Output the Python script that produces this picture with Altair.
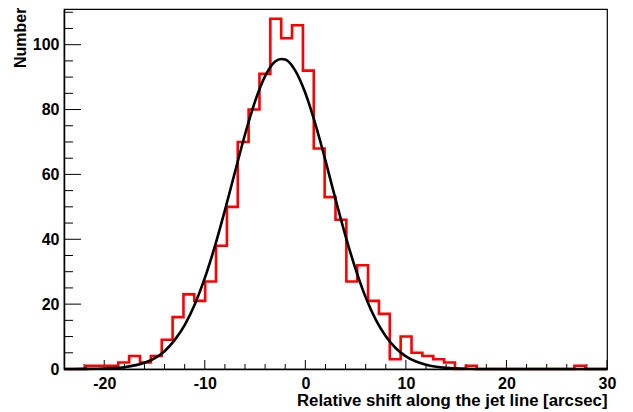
import altair as alt
import numpy as np
import pandas as pd

# ---------------- data ----------------
X_MIN, X_MAX = -24.0, 30.0          # histogram / axis range (50 bins)
COUNTS = [0, 0, 1, 1, 1, 2, 4, 2, 4, 9,
          16, 23, 21, 27, 38, 50, 70, 80, 91, 108,
          102, 106, 92, 68, 53, 46, 27, 32, 21, 17,
          3, 10, 5, 4, 3, 2, 0, 1, 0, 0,
          0, 0, 0, 0, 0, 0, 0, 1, 0, 0]

FIT_X = [-24, -22, -20, -18, -16, -15, -14, -13, -12, -11, -10, -9, -8, -7, -6,
         -5, -4, -3, -2.4, -2, -1, 0, 1, 2, 3, 4, 5, 6, 7, 8, 9, 10, 11, 12,
         14, 16, 18, 20, 25, 30]
FIT_Y = [0.0, 0.03, 0.14, 0.56, 1.9, 3.3, 5.5, 8.9, 13.5, 19.9, 28.0, 37.8, 48.9, 60.7, 72.3,
         82.5, 90.3, 94.8, 95.6, 95.4, 92.0, 85.1, 75.5, 64.3, 52.4, 41.0, 30.8, 22.1, 15.2, 10.1, 6.4, 3.9, 2.3, 1.3,
         0.35, 0.08, 0.01, 0.0, 0.0, 0.0]

X_MAJOR = [-20, -10, 0, 10, 20, 30]
X_MINOR = [-22, -18, -16, -14, -12, -8, -6, -4, -2, 2, 4, 6, 8,
           12, 14, 16, 18, 22, 24, 26, 28]
Y_MAJOR = [0, 20, 40, 60, 80, 100]
Y_MINOR = [5, 10, 15, 25, 30, 35, 45, 50, 55, 65, 70, 75, 85, 90, 95, 105, 110]

X_TITLE = "Relative shift along the jet line [arcsec]"
Y_TITLE = "Number"

# ---------------- tables ----------------
edges = np.linspace(X_MIN, X_MAX, len(COUNTS) + 1)
hist_df = pd.DataFrame({"x": list(edges[:-1]) + [edges[-1]],
                        "y": COUNTS + [COUNTS[-1]]})
fit_df = pd.DataFrame({"x": FIT_X, "y": FIT_Y})

W, H = 543, 360
Y_TOP = 111.0
FONT = "Liberation Sans"

xscale = alt.Scale(domain=[X_MIN, X_MAX], nice=False, zero=False)
yscale = alt.Scale(domain=[0, Y_TOP], nice=False, zero=True)

xaxis = alt.Axis(values=X_MAJOR, title=X_TITLE, ticks=False, tickSize=0, grid=False,
                 domainColor="black", domainWidth=1.5,
                 labelFont=FONT, labelFontSize=16, labelFontWeight="bold", labelColor="black",
                 labelPadding=6, labelExpr="'' + datum.value", labelFlush=False, labelOverlap=False,
                 titleFont=FONT, titleFontSize=16.8, titleFontWeight="bold", titleColor="black",
                 titleAnchor="end", titleAlign="right", titleBaseline="alphabetic",
                 titleX=W, titleY=36)
yaxis = alt.Axis(values=Y_MAJOR, title=Y_TITLE, ticks=False, tickSize=0, grid=False,
                 domainColor="black", domainWidth=1.5,
                 labelFont=FONT, labelFontSize=16, labelFontWeight="bold", labelColor="black",
                 labelPadding=5, labelFlush=False, labelOverlap=False,
                 titleFont=FONT, titleFontSize=16, titleFontWeight="bold", titleColor="black",
                 titleAnchor="end", titleAlign="right", titleBaseline="middle",
                 titleX=-44, titleY=-2)

XE = alt.X("x:Q", scale=xscale, axis=xaxis)
YE = alt.Y("y:Q", scale=yscale, axis=yaxis)

xt_major = alt.Chart(pd.DataFrame({"x": X_MAJOR})).mark_rule(color="black", strokeWidth=1).encode(
    x=XE, y=alt.value(H), y2=alt.value(H - 9))
xt_minor = alt.Chart(pd.DataFrame({"x": X_MINOR})).mark_rule(color="black", strokeWidth=1).encode(
    x=XE, y=alt.value(H), y2=alt.value(H - 5))
yt_major = alt.Chart(pd.DataFrame({"y": Y_MAJOR})).mark_rule(color="black", strokeWidth=1).encode(
    y=YE, x=alt.value(0), x2=alt.value(17))
yt_minor = alt.Chart(pd.DataFrame({"y": Y_MINOR})).mark_rule(color="black", strokeWidth=1).encode(
    y=YE, x=alt.value(0), x2=alt.value(9))

hist = alt.Chart(hist_df).mark_line(color="#ff0000", strokeWidth=2.6, interpolate="step-after").encode(
    x=XE, y=YE)
fit = alt.Chart(fit_df).mark_line(color="black", strokeWidth=2.6, interpolate="monotone").encode(
    x=XE, y=YE)

chart = alt.layer(xt_major, xt_minor, yt_major, yt_minor, hist, fit).properties(
    width=W, height=H,
    autosize=alt.AutoSizeParams(type="none"),
    padding={"left": 56, "top": 1, "right": 10, "bottom": 43},
    background="white",
).configure_view(stroke="black", strokeWidth=1.2)

chart.save("out.html", embed_options={"renderer": "svg", "actions": False})
